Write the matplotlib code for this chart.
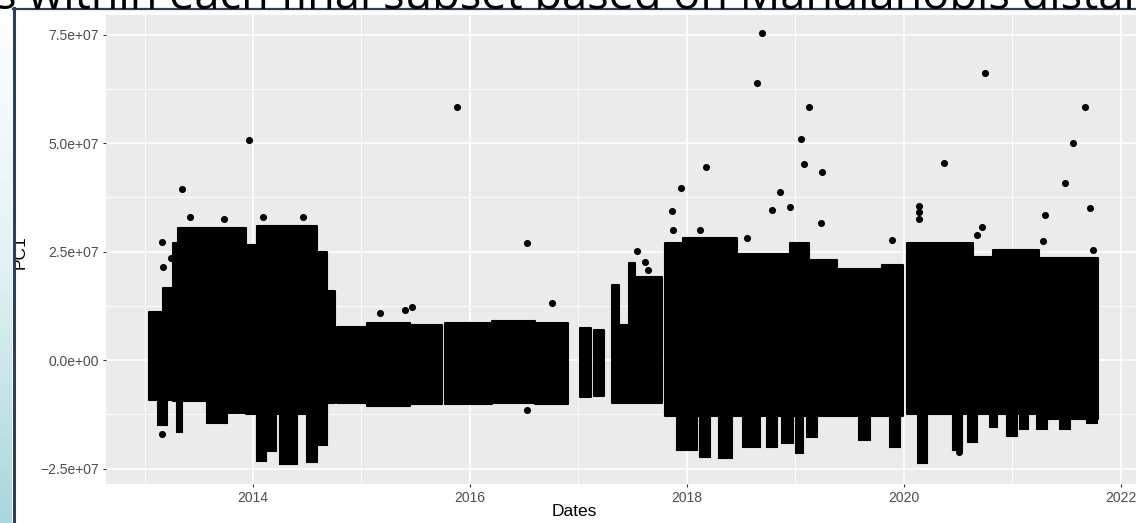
import numpy as np
import matplotlib.pyplot as plt
from matplotlib.lines import Line2D
from matplotlib.colors import LinearSegmentedColormap
from matplotlib.ticker import FixedLocator, FixedFormatter

# PC1 values are in units of 1e7, dates are decimal years.
# each dense block: step edges, upper / lower envelope per step
block_2013_edges = [2013.04, 2013.17, 2013.26, 2013.31, 2013.58, 2013.94, 2014.04, 2014.59, 2014.68, 2014.76]
block_2013_upper = [1.10, 1.65, 2.70, 3.05, 3.05, 2.65, 3.08, 2.50, 1.60]
block_2013_lower = [-0.92, -0.92, -0.95, -0.95, -1.22, -1.25, -1.25, -1.25, -1.00]

block_2015_edges = [2014.77, 2015.05, 2015.45, 2015.74]
block_2015_upper = [0.75, 0.85, 0.80]
block_2015_lower = [-1.00, -1.05, -1.02]

block_2016_edges = [2015.77, 2016.20, 2016.60, 2016.90]
block_2016_upper = [0.85, 0.90, 0.85]
block_2016_lower = [-1.02, -1.00, -1.02]

bar_2017a_edges = [2017.01, 2017.12]
bar_2017a_upper = [0.74]
bar_2017a_lower = [-0.85]

bar_2017b_edges = [2017.14, 2017.24]
bar_2017b_upper = [0.69]
bar_2017b_lower = [-0.83]

block_2017_edges = [2017.31, 2017.37, 2017.47, 2017.52, 2017.77]
block_2017_upper = [1.73, 0.81, 2.24, 1.92]
block_2017_lower = [-0.98, -0.98, -0.98, -0.98]

block_2018_edges = [2017.80, 2017.96, 2018.46, 2018.95, 2019.13, 2019.38, 2019.80, 2019.99]
block_2018_upper = [2.70, 2.82, 2.45, 2.70, 2.30, 2.10, 2.20]
block_2018_lower = [-1.29, -1.29, -1.29, -1.29, -1.29, -1.29, -1.29]

block_2020_edges = [2020.03, 2020.64, 2020.82, 2021.25, 2021.79]
block_2020_upper = [2.70, 2.37, 2.53, 2.35]
block_2020_lower = [-1.25, -1.25, -1.25, -1.35]

# downward tails: start, end, lowest value
tail_start = [2013.12, 2013.30, 2013.58, 2014.04, 2014.14, 2014.25, 2014.50, 2014.61,
              2017.91, 2018.12, 2018.30, 2018.52, 2018.74, 2018.88, 2019.01, 2019.11, 2019.59, 2019.87,
              2020.13, 2020.45, 2020.59, 2020.79, 2020.95, 2021.07, 2021.23, 2021.44, 2021.69]
tail_end = [2013.21, 2013.35, 2013.76, 2014.12, 2014.21, 2014.41, 2014.59, 2014.68,
            2018.09, 2018.21, 2018.42, 2018.67, 2018.83, 2018.98, 2019.07, 2019.20, 2019.69, 2019.96,
            2020.21, 2020.54, 2020.67, 2020.86, 2021.04, 2021.14, 2021.32, 2021.53, 2021.78]
tail_low = [-1.50, -1.66, -1.45, -2.33, -2.10, -2.40, -2.35, -1.95,
            -2.07, -2.23, -2.26, -2.00, -2.00, -1.91, -2.14, -1.77, -1.84, -2.00,
            -2.37, -2.07, -1.90, -1.55, -1.75, -1.60, -1.60, -1.60, -1.45]

# isolated points
outlier_date = [2013.96, 2013.35, 2013.16, 2013.24, 2013.17, 2013.16, 2013.42, 2013.73, 2014.09, 2014.46,
                2015.17, 2015.47, 2015.40,
                2015.88, 2016.53, 2016.76, 2016.53,
                2017.54, 2017.61, 2017.64,
                2018.69, 2018.65, 2019.13, 2019.05, 2019.08, 2019.25, 2018.18, 2017.95, 2017.86, 2018.86,
                2018.78, 2018.95, 2019.24, 2018.55, 2019.89, 2017.87, 2018.12,
                2020.14, 2020.14, 2020.14,
                2020.75, 2020.37, 2021.67, 2021.56, 2021.49, 2021.72, 2021.30, 2020.72, 2020.67, 2021.28,
                2021.74, 2020.51]
outlier_pc1 = [5.07, 3.94, 2.72, 2.35, 2.14, -1.70, 3.30, 3.25, 3.30, 3.30,
               1.08, 1.22, 1.15,
               5.83, 2.70, 1.31, -1.15,
               2.51, 2.26, 2.07,
               7.53, 6.38, 5.83, 5.09, 4.52, 4.33, 4.45, 3.96, 3.43, 3.87,
               3.46, 3.52, 3.16, 2.81, 2.76, 3.00, 3.00,
               3.25, 3.40, 3.55,
               6.61, 4.54, 5.83, 5.00, 4.08, 3.50, 3.34, 3.06, 2.88, 2.74,
               2.53, -2.12]

x_major = [2014, 2016, 2018, 2020, 2022]
x_minor = [2013, 2015, 2017, 2019, 2021]
y_major = [-2.5, 0.0, 2.5, 5.0, 7.5]
y_minor = [-1.25, 1.25, 3.75, 6.25]
y_tick_labels = ["\u22122.5e+07", "0.0e+00", "2.5e+07", "5.0e+07", "7.5e+07"]

SCALE = 1e7
W, H = 1136, 523

fig = plt.figure(figsize=(W / 100, H / 100), dpi=100)
fig.patch.set_facecolor("white")

# slide decoration on the left edge
strip = fig.add_axes([0, 0, 12 / W, 1])
grad = np.linspace(0, 1, 256).reshape(-1, 1)
strip.imshow(grad, aspect="auto",
             cmap=LinearSegmentedColormap.from_list("s", ["#ffffff", "#e3f2f4", "#a9d6dd"]),
             extent=[0, 1, 0, 1])
strip.set_axis_off()
fig.add_artist(Line2D([13.5 / W, 13.5 / W], [0, 1 - 8 / H], color="#2f3f52", lw=2.2))
fig.add_artist(Line2D([13 / W, 1], [1 - 8.5 / H, 1 - 8.5 / H], color="#2f3f52", lw=1.6))
fig.text(-0.004, 1 - 9 / H, "s within each final subset based on Mahalanobis distance",
         fontsize=32.5, family="Open Sans", color="black", va="baseline", ha="left")

ax = fig.add_axes([106 / W, 39 / H, (W - 106) / W, 469 / H])
ax.set_facecolor("#EBEBEB")
for s in ax.spines.values():
    s.set_visible(False)

blocks = [
    (block_2013_edges, block_2013_upper, block_2013_lower),
    (block_2015_edges, block_2015_upper, block_2015_lower),
    (block_2016_edges, block_2016_upper, block_2016_lower),
    (bar_2017a_edges, bar_2017a_upper, bar_2017a_lower),
    (bar_2017b_edges, bar_2017b_upper, bar_2017b_lower),
    (block_2017_edges, block_2017_upper, block_2017_lower),
    (block_2018_edges, block_2018_upper, block_2018_lower),
    (block_2020_edges, block_2020_upper, block_2020_lower),
]
for edges, up, lo in blocks:
    up = np.array(list(up) + [up[-1]]) * SCALE
    lo = np.array(list(lo) + [lo[-1]]) * SCALE
    ax.fill_between(edges, lo, up, step="post", color="black", lw=1.5, zorder=3)

for s, e, lo in zip(tail_start, tail_end, tail_low):
    ax.bar(s, -lo * SCALE - 0.5 * SCALE, width=e - s, bottom=lo * SCALE, align="edge",
           color="black", lw=1.5, edgecolor="black", zorder=3)

ax.scatter(outlier_date, np.array(outlier_pc1) * SCALE, s=26, color="black", lw=0, zorder=4)

ax.set_xlim(2012.645, 2022.14)
ax.set_ylim(-2.857 * SCALE, 7.95 * SCALE)

ax.xaxis.set_major_locator(FixedLocator(x_major))
ax.xaxis.set_minor_locator(FixedLocator(x_minor))
ax.xaxis.set_major_formatter(FixedFormatter([str(v) for v in x_major]))
ax.yaxis.set_major_locator(FixedLocator([v * SCALE for v in y_major]))
ax.yaxis.set_minor_locator(FixedLocator([v * SCALE for v in y_minor]))
ax.yaxis.set_major_formatter(FixedFormatter(y_tick_labels))

ax.grid(which="major", color="white", lw=1.2, zorder=0)
ax.grid(which="minor", color="white", lw=0.6, zorder=0)
ax.set_axisbelow(True)
ax.tick_params(which="major", length=2.5, width=0.8, color="#333333", labelcolor="#4d4d4d",
               labelsize=10, pad=2.5)
ax.tick_params(which="minor", length=0)
for lab in ax.get_xticklabels() + ax.get_yticklabels():
    lab.set_family("Liberation Sans")

ax.set_xlabel("Dates", fontsize=12.5, family="Liberation Sans", color="black")
ax.set_ylabel("PC1", fontsize=12.5, family="Liberation Sans", color="black")
ax.xaxis.set_label_coords(0.455, -0.043)
ax.yaxis.set_label_coords(-0.0757, 0.495)

fig.savefig("out.png", dpi=100)
